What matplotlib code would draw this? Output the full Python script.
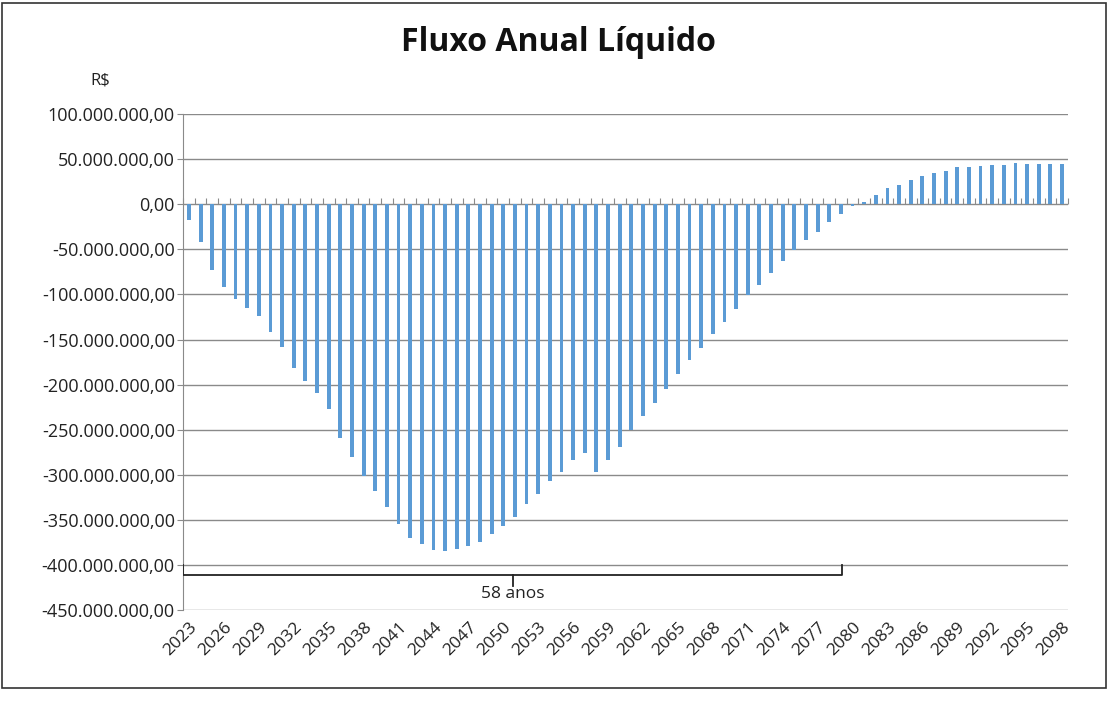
import numpy as np
import matplotlib
matplotlib.use("Agg")
import matplotlib.pyplot as plt
from matplotlib.ticker import FuncFormatter, MultipleLocator
from matplotlib.patches import Rectangle

# anos e fluxo anual liquido (em milhoes de R$)
anos = list(range(2023, 2099))
fluxo_mi = [-17, -42, -73, -92, -105, -115, -124, -142, -158, -182,
            -196, -209, -227, -259, -280, -301, -318, -336, -355, -370,
            -377, -384, -385, -383, -379, -375, -366,
            -357, -347, -333, -321, -307, -297, -284, -276, -297, -284,
            -269, -250, -235, -220, -205, -188, -173, -159, -144, -130,
            -116, -101, -89, -76, -63, -51, -40, -31, -20, -11,
            -2, 3, 10, 18, 21, 27, 31, 35, 37, 41,
            41, 43, 44, 44, 46, 45, 45, 45, 45]
rotulo_chave = "58 anos"
inicio_chave, fim_chave = 2023, 2079

valores = np.array(fluxo_mi) * 1e6
x = np.arange(len(anos))

plt.rcParams["font.family"] = ["Open Sans", "DejaVu Sans"]

fig = plt.figure(figsize=(11.17, 7.01), dpi=100)
ax = fig.add_axes([0.164, 0.130, 0.792, 0.707])

ax.bar(x, valores, width=0.33, color="#5b9bd5", zorder=3)

ax.set_ylim(-450e6, 100e6)
ax.set_xlim(-0.5, len(anos) - 0.5)
ax.yaxis.set_major_locator(MultipleLocator(50e6))

def br(v, pos):
    s = f"{v:,.2f}"
    return s.replace(",", "X").replace(".", ",").replace("X", ".")

ax.yaxis.set_major_formatter(FuncFormatter(br))
ax.grid(axis="y", color="#8a8a8a", linewidth=1.0, zorder=0)
ax.tick_params(axis="y", labelsize=13, length=4, pad=2, color="#8a8a8a", labelcolor="#222222")

ax.set_xticks(x[::3])
ax.set_xticklabels([str(a) for a in anos[::3]], rotation=45, ha="right",
                   rotation_mode="anchor", fontsize=12.5, color="#222222")
ax.tick_params(axis="x", length=0, pad=7)

for s in ["top", "right", "bottom"]:
    ax.spines[s].set_visible(False)
ax.spines["left"].set_color("#8a8a8a")

# eixo de categorias na linha do zero
zero_frac = 450 / 550
sec = ax.secondary_xaxis(zero_frac)
sec.set_xticks(np.arange(-0.5, len(anos), 1.0))
sec.set_xticklabels([])
sec.tick_params(length=4, direction="out", color="#8a8a8a")
sec.spines["bottom"].set_color("#8a8a8a")
sec.spines["top"].set_visible(False)

# chave "58 anos"
xa = anos.index(inicio_chave) - 0.5
xb = anos.index(fim_chave) + 0.1
xm = (xa + xb) / 2
yk = -411e6
ax.plot([xa, xa, xb, xb], [-400e6, yk, yk, -400e6], color="#222222", lw=1.3, zorder=4)
ax.plot([xm, xm], [yk, -423e6], color="#222222", lw=1.3, zorder=4)
ax.text(xm, -424e6, rotulo_chave, ha="center", va="top", fontsize=12.5, color="#222222")

fig.text(0.5, 0.94, "Fluxo Anual Líquido", ha="center", va="center",
         fontsize=23, fontweight="bold", color="#111111")
fig.text(0.09, 0.885, "R$", ha="center", va="center", fontsize=12, color="#222222")

fig.patches.append(Rectangle((0.002, 0.018), 0.988, 0.978, transform=fig.transFigure,
                             fill=False, edgecolor="#333333", lw=1.2))

fig.savefig("out.png", dpi=100, facecolor="white")
